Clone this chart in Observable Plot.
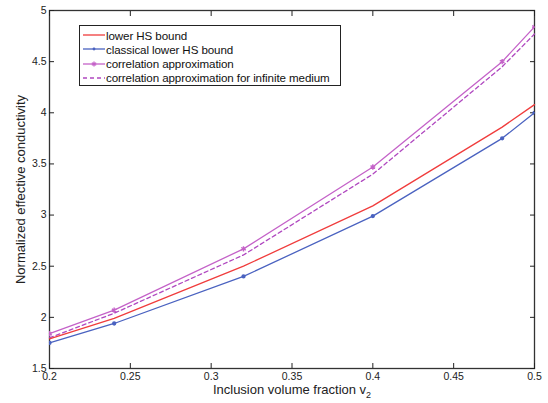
<!DOCTYPE html>
<html><head><meta charset="utf-8">
<script src="https://cdn.jsdelivr.net/npm/d3@7"></script>
<script src="https://cdn.jsdelivr.net/npm/@observablehq/plot@0.6"></script>
<style>
body{margin:0;background:#fff;font-family:"Liberation Sans",Arial,sans-serif;}
#wrap{position:relative;width:548px;height:403px;}
#legend{position:absolute;left:79px;top:25px;width:262px;height:61px;border:1px solid #222;background:#fff;font-size:11.6px;color:#111;box-sizing:border-box;}
.row{position:absolute;left:3px;height:14px;display:flex;align-items:center;}
.row span{margin-left:1px;letter-spacing:-0.1px;}
</style></head>
<body><div id="wrap"><div id="legend"></div></div>
<script>
const xs = [0.2, 0.24, 0.32, 0.4, 0.48, 0.5];
const lowerHS = [1.79, 1.99, 2.50, 3.09, 3.86, 4.08];
const classicalHS = [1.75, 1.94, 2.40, 2.99, 3.75, 4.00];
const corrApprox = [1.84, 2.07, 2.67, 3.47, 4.50, 4.84];
const corrInfinite = [1.80, 2.04, 2.61, 3.40, 4.45, 4.77];
const names = ["lower HS bound", "classical lower HS bound", "correlation approximation", "correlation approximation for infinite medium"];
const colors = ["#f03c3c", "#4a62c0", "#c462c8", "#b048c0"];
const xTicks = [0.2, 0.25, 0.3, 0.35, 0.4, 0.45, 0.5];
const yTicks = [1.5, 2, 2.5, 3, 3.5, 4, 4.5, 5];

const series = [lowerHS, classicalHS, corrApprox, corrInfinite];
const data = series.flatMap((s, i) => s.map((v, j) => ({x: xs[j], y: v, s: names[i]})));
const sel = n => data.filter(d => d.s === n);

const fmt = d => String(d);
const plot = Plot.plot({
  width: 548, height: 403,
  marginLeft: 49, marginRight: 14, marginTop: 10, marginBottom: 35,
  style: {fontFamily: "Liberation Sans, Arial, sans-serif", fontSize: "10.5px", color: "#222", background: "#fff"},
  x: {domain: [0.2, 0.5]},
  y: {domain: [1.5, 5]},
  marks: [
    Plot.frame({stroke: "#333", strokeWidth: 1.3}),
    Plot.axisX({ticks: xTicks, tickSize: -5, tickPadding: 9, tickFormat: fmt, label: null}),
    Plot.axisX({anchor: "top", ticks: xTicks, tickSize: -5, tickFormat: () => "", label: null}),
    Plot.axisY({ticks: yTicks, tickSize: -5, tickPadding: 8, tickFormat: fmt, label: null}),
    Plot.axisY({anchor: "right", ticks: yTicks, tickSize: -5, tickFormat: () => "", label: null}),
    Plot.line(sel(names[3]), {x: "x", y: "y", stroke: colors[3], strokeWidth: 1.3, strokeDasharray: "4,3"}),
    Plot.line(sel(names[2]), {x: "x", y: "y", stroke: colors[2], strokeWidth: 1.3}),
    Plot.line(sel(names[0]), {x: "x", y: "y", stroke: colors[0], strokeWidth: 1.3}),
    Plot.line(sel(names[1]), {x: "x", y: "y", stroke: colors[1], strokeWidth: 1.3}),
    Plot.dot(sel(names[1]), {x: "x", y: "y", r: 1.4, fill: colors[1], stroke: colors[1], clip: true}),
    Plot.dot(sel(names[2]), {x: "x", y: "y", r: 2.5, symbol: "asterisk", stroke: colors[2], strokeWidth: 1.4, clip: true}),
    Plot.text(["Inclusion volume fraction v"], {frameAnchor: "bottom", dy: 25, fontSize: 13, textAnchor: "middle"}),
    Plot.text(["Normalized effective conductivity"], {frameAnchor: "left", dx: -29, rotate: -90, fontSize: 13, textAnchor: "middle"})
  ]
});
document.getElementById("wrap").prepend(plot);

// subscript 2 on the x label
const xl = [...plot.querySelectorAll("text")].find(t => t.textContent === "Inclusion volume fraction v");
if (xl) {
  const ts = document.createElementNS("http://www.w3.org/2000/svg", "tspan");
  ts.setAttribute("dy", "4"); ts.setAttribute("font-size", "9"); ts.textContent = "2";
  xl.appendChild(ts);
}

const leg = document.getElementById("legend");
names.forEach((n, i) => {
  const row = document.createElement("div");
  row.className = "row";
  row.style.top = (2 + i * 14.3) + "px";
  const dash = i === 3 ? 'stroke-dasharray="4,3"' : '';
  let marker = '';
  if (i === 1) marker = `<circle cx="11" cy="7" r="1.4" fill="${colors[i]}"/>`;
  if (i === 2) marker = `<path d="M11,4.5v5M8.8,5.7l4.4,2.6M8.8,8.3l4.4,-2.6" stroke="${colors[i]}" stroke-width="1.3"/>`;
  row.innerHTML = `<svg width="22" height="14"><line x1="0" x2="22" y1="7" y2="7" stroke="${colors[i]}" stroke-width="1.3" ${dash}/>${marker}</svg><span>${n}</span>`;
  leg.appendChild(row);
});
</script></body></html>
